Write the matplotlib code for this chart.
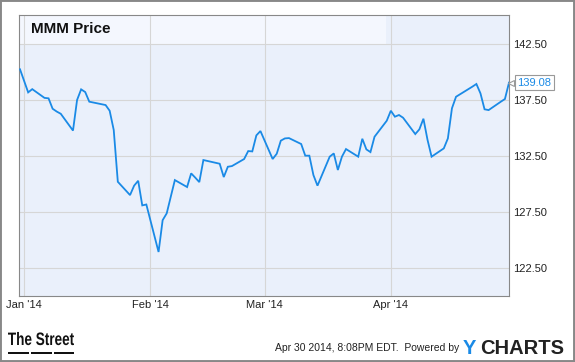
import matplotlib
matplotlib.use("Agg")
import matplotlib.pyplot as plt
import matplotlib.transforms as mtransforms
from matplotlib.patches import Rectangle, PathPatch
from matplotlib.textpath import TextPath
from matplotlib.font_manager import FontProperties
from matplotlib.ticker import FormatStrFormatter
import pandas as pd

# daily closes
dates = [
    "2013-12-31",
    "2014-01-02", "2014-01-03", "2014-01-06", "2014-01-07", "2014-01-08",
    "2014-01-09", "2014-01-10", "2014-01-13", "2014-01-14", "2014-01-15",
    "2014-01-16", "2014-01-17", "2014-01-21", "2014-01-22", "2014-01-23",
    "2014-01-24", "2014-01-27", "2014-01-28", "2014-01-29", "2014-01-30",
    "2014-01-31",
    "2014-02-03", "2014-02-04", "2014-02-05", "2014-02-06", "2014-02-07",
    "2014-02-10", "2014-02-11", "2014-02-12", "2014-02-13", "2014-02-14",
    "2014-02-18", "2014-02-19", "2014-02-20", "2014-02-21", "2014-02-24",
    "2014-02-25", "2014-02-26", "2014-02-27", "2014-02-28",
    "2014-03-03", "2014-03-04", "2014-03-05", "2014-03-06", "2014-03-07",
    "2014-03-10", "2014-03-11", "2014-03-12", "2014-03-13", "2014-03-14",
    "2014-03-17", "2014-03-18", "2014-03-19", "2014-03-20", "2014-03-21",
    "2014-03-24", "2014-03-25", "2014-03-26", "2014-03-27", "2014-03-28",
    "2014-03-31",
    "2014-04-01", "2014-04-02", "2014-04-03", "2014-04-04", "2014-04-07",
    "2014-04-08", "2014-04-09", "2014-04-10", "2014-04-11", "2014-04-14",
    "2014-04-15", "2014-04-16", "2014-04-17", "2014-04-21", "2014-04-22",
    "2014-04-23", "2014-04-24", "2014-04-25", "2014-04-28", "2014-04-29",
    "2014-04-30",
]
close = [
    140.27,
    138.21, 138.50, 137.72, 137.68, 136.75,
    136.50, 136.30, 134.80, 137.53, 138.48,
    138.24, 137.38, 137.08, 136.57, 134.85,
    130.23, 129.04, 129.88, 130.32, 128.12,
    128.20,
    123.96, 126.80, 127.41, 128.90, 130.38,
    129.76, 130.98, 130.60, 130.20, 132.17,
    131.84, 130.65, 131.57, 131.63, 132.26,
    132.97, 132.94, 134.37, 134.76,
    132.26, 132.73, 133.90, 134.10, 134.13,
    133.60, 132.56, 132.56, 130.83, 129.88,
    132.47, 132.76, 131.28, 132.47, 133.15,
    132.47, 134.07, 133.12, 132.88, 134.25,
    135.68,
    136.57, 136.04, 136.19, 135.95, 134.49,
    134.91, 135.86, 133.98, 132.47, 133.21,
    134.10, 136.79, 137.82, 138.72, 138.96,
    138.12, 136.70, 136.63, 137.38, 137.62,
    139.08,
]
yticks = [122.5, 127.5, 132.5, 137.5, 142.5]
month_ticks = ["2014-01-01", "2014-02-01", "2014-03-01", "2014-04-01"]
month_labels = ["Jan '14", "Feb '14", "Mar '14", "Apr '14"]

blue = "#1a8ae6"
W, H = 575, 362

fig = plt.figure(figsize=(W / 100, H / 100), dpi=100)
fig.patch.set_facecolor("white")
ax = fig.add_axes([19 / W, 66 / H, 490 / W, 281 / H])
ax.set_facecolor("#eaf0fb")

x = pd.to_datetime(dates)
ax.plot(x, close, color=blue, lw=1.3, zorder=3, solid_joinstyle="miter")

ymin, ymax = 120.03, 145.12
ax.set_xlim(pd.Timestamp("2013-12-30 18:00"), pd.Timestamp("2014-04-30"))
ax.set_ylim(ymin, ymax)

# lighter title band
ax.axhspan(142.5, ymax, xmin=0, xmax=0.749, color="#f4f7fe", lw=0, zorder=0.2)

ax.yaxis.tick_right()
ax.set_yticks(yticks)
ax.yaxis.set_major_formatter(FormatStrFormatter("%.2f"))
ax.set_xticks(pd.to_datetime(month_ticks))
ax.set_xticklabels(month_labels)
ax.tick_params(length=0, labelsize=8, labelcolor="#222222")
ax.tick_params(axis="y", pad=3)
ax.tick_params(axis="x", pad=3)
for lab in ax.get_xticklabels() + ax.get_yticklabels():
    lab.set_family("Liberation Sans")
ax.set_axisbelow(True)
ax.grid(color="#d6d6d6", lw=0.8)
for s in ax.spines.values():
    s.set_color("#888888")
    s.set_linewidth(0.8)

fig.text(31 / W, 1 - 29 / H, "MMM Price", fontsize=11, fontweight="bold",
         family="Liberation Sans", va="center", ha="left", color="#111111")

# last price tag
off = mtransforms.offset_copy(ax.transData, fig=fig, x=2, y=0, units="dots")
ax.plot([x[-1]], [close[-1]], marker="<", ms=5, mfc="white", mec="#999999",
        mew=0.8, transform=off, clip_on=False, zorder=5)
ax.annotate("%.2f" % close[-1], xy=(x[-1], close[-1]), xytext=(6, 0),
            textcoords="offset points", ha="left", va="center",
            fontsize=8, color=blue, family="Liberation Sans",
            bbox=dict(boxstyle="square,pad=0.2", fc="white", ec="#999999", lw=0.8),
            annotation_clip=False, zorder=6)

# footer: condensed "The Street" logo
tp = TextPath((0, 0), "The Street", size=18,
              prop=FontProperties(family="Liberation Sans", weight="bold"))
ext = tp.get_extents()
sx = 66 / ext.width
logo_tr = mtransforms.Affine2D().translate(-ext.x0, 0).scale(sx, 1.0).translate(8, 362 - 345)
fig.add_artist(PathPatch(tp, transform=logo_tr, fc="#111111", lw=0))
for x0, x1 in [(8, 29), (31, 52), (54, 74)]:
    fig.add_artist(Rectangle((x0 / W, 8 / H), (x1 - x0) / W, 2.5 / H,
                             transform=fig.transFigure, color="#111111", lw=0))
fig.text(459 / W, 1 - 348 / H, "Apr 30 2014, 8:08PM EDT.  Powered by",
         fontsize=7.5, family="Liberation Sans", ha="right", va="center",
         color="#222222")
fig.text(463 / W, 1 - 348 / H, "Y", fontsize=14.5, fontweight="bold",
         family="Liberation Sans", ha="left", va="center", color="#1a8ae6")
fig.text(480 / W, 1 - 348 / H, "CHARTS", fontsize=14.5, fontweight="bold",
         family="Liberation Sans", ha="left", va="center", color="#222222")

fig.add_artist(Rectangle((0, 0), 1, 1, transform=fig.transFigure, fill=False,
                         ec="#888888", lw=2.8))

fig.savefig("out.png", dpi=100)
